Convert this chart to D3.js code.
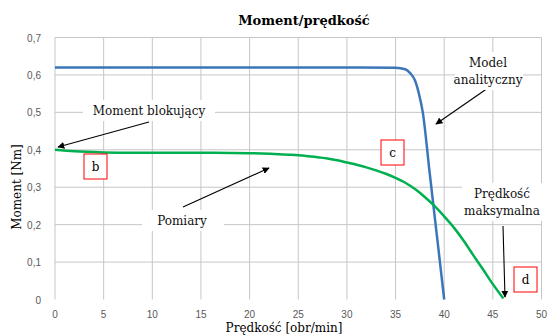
<!DOCTYPE html>
<html><head><meta charset="utf-8">
<script src="https://cdn.jsdelivr.net/npm/d3@7"></script>
<style>body{margin:0;background:#fff;}svg{display:block;}
.serif{font-family:"DejaVu Serif","Liberation Serif",serif;}
.sans{font-family:"Liberation Sans","DejaVu Sans",Arial,sans-serif;}
</style>
</head><body><svg id="c" width="548" height="336"></svg>
<script>
const xTicks = [0,5,10,15,20,25,30,35,40,45,50];
const yTicks = [0,0.1,0.2,0.3,0.4,0.5,0.6,0.7];
const modelSpeed  = [0,10,20,30,35,36,36.5,37,37.4,37.8,38.5,39,39.5,40];
const modelTorque = [0.62,0.62,0.62,0.62,0.619,0.615,0.605,0.585,0.55,0.5,0.34,0.227,0.114,0];
const measSpeed  = [0,2,5,8,15,20,24,25,26,27,28,29,30,31,32,33,34,35,36,37,38,39,40,41,42,43,44,45,46.07];
const measTorque = [0.400,0.396,0.393,0.392,0.392,0.391,0.387,0.3855,0.383,0.380,0.377,0.372,0.366,0.360,0.353,0.345,0.336,0.325,0.312,0.295,0.274,0.250,0.222,0.192,0.157,0.118,0.080,0.041,0.003];

const svg = d3.select('#c');
const x = d3.scaleLinear().domain([0,50]).range([55,541.5]);
const y = d3.scaleLinear().domain([0,0.7]).range([299.5,37.5]);

svg.append('g').selectAll('line').data(xTicks).join('line')
  .attr('x1',d=>x(d)).attr('x2',d=>x(d)).attr('y1',y(0)).attr('y2',y(0.7))
  .attr('stroke','#c6c6c6').attr('stroke-width',1);
svg.append('g').selectAll('line').data(yTicks.filter(d=>d>0)).join('line')
  .attr('x1',x(0)).attr('x2',x(50)).attr('y1',d=>y(d)).attr('y2',d=>y(d))
  .attr('stroke','#c6c6c6').attr('stroke-width',1);

const fmt = d => d===0 ? '0' : d3.format('.1f')(d).replace('.',',');
svg.append('g').selectAll('text').data(yTicks).join('text').attr('class','sans')
  .attr('x',41).attr('y',d=>y(d)+4).attr('text-anchor','end')
  .attr('font-size',10).attr('fill','#595959').text(fmt);
svg.append('g').selectAll('text').data(xTicks).join('text').attr('class','sans')
  .attr('x',d=>x(d)).attr('y',318).attr('text-anchor','middle')
  .attr('font-size',10).attr('fill','#595959').text(d=>d);

svg.append('text').attr('class','serif').attr('x',304).attr('y',25).attr('text-anchor','middle')
  .attr('font-weight','bold').attr('font-size',13).text('Moment/prędkość');
svg.append('text').attr('class','serif').attr('transform','translate(21,187) rotate(-90)').attr('text-anchor','middle')
  .attr('font-size',12).text('Moment [Nm]');
svg.append('text').attr('class','serif').attr('x',284).attr('y',332).attr('text-anchor','middle')
  .attr('font-size',12).text('Prędkość [obr/min]');

const line = d3.line().x(d=>x(d[0])).y(d=>y(d[1])).curve(d3.curveMonotoneX);
svg.append('path').datum(d3.zip(modelSpeed,modelTorque)).attr('d',line)
  .attr('fill','none').attr('stroke','#3a76b8').attr('stroke-width',2.5);
svg.append('path').datum(d3.zip(measSpeed,measTorque)).attr('d',line)
  .attr('fill','none').attr('stroke','#00b050').attr('stroke-width',2.5);

svg.append('defs').append('marker').attr('id','ah').attr('viewBox','0 0 10 10')
  .attr('refX',9).attr('refY',5).attr('markerWidth',7).attr('markerHeight',7)
  .attr('markerUnits','userSpaceOnUse').attr('orient','auto')
  .append('path').attr('d','M0,0L10,5L0,10z').attr('fill','#000');
const arrows = [[149,122,58,147],[183,207,269,168],[488,88,436,124],[503,226,505,297]];
svg.append('g').selectAll('line').data(arrows).join('line')
  .attr('x1',d=>d[0]).attr('y1',d=>d[1]).attr('x2',d=>d[2]).attr('y2',d=>d[3])
  .attr('stroke','#000').attr('stroke-width',1.1).attr('marker-end','url(#ah)');

const labels = [
  {t:['Moment blokujący'], cx:149, cy:110, bx:83, bw:132},
  {t:['Pomiary'], cx:182, cy:220, bx:142, bw:82},
  {t:['Model','analityczny'], cx:488, cy:62, bx:455, bw:68},
  {t:['Prędkość','maksymalna'], cx:502, cy:193, bx:462, bw:80}
];
labels.forEach(l=>{
  const h = l.t.length*17+4;
  svg.append('rect').attr('x',l.bx).attr('y',l.cy-10).attr('width',l.bw).attr('height',h).attr('fill','#fff');
  l.t.forEach((s,i)=>svg.append('text').attr('class','serif').attr('x',l.cx).attr('y',l.cy+5+i*17).attr('text-anchor','middle')
    .attr('font-size',12).attr('fill','#111').text(s));
});
const boxes = [{t:'b',x:84,y:154},{t:'c',x:381,y:140},{t:'d',x:514,y:267}];
boxes.forEach(b=>{
  svg.append('rect').attr('x',b.x).attr('y',b.y).attr('width',23).attr('height',25)
    .attr('fill','#fff').attr('stroke','#ff0000').attr('stroke-width',1);
  svg.append('text').attr('class','serif').attr('x',b.x+11.5).attr('y',b.y+17).attr('text-anchor','middle')
    .attr('font-size',12).text(b.t);
});
</script></body></html>
